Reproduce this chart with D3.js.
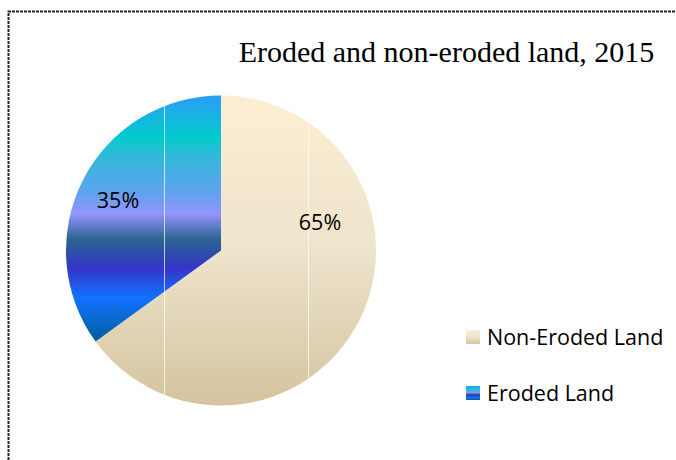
<!DOCTYPE html>
<html><head><meta charset="utf-8">
<script src="https://cdn.jsdelivr.net/npm/d3@7"></script>
<style>body{margin:0;background:#fff}svg{display:block}</style>
</head><body>
<svg id="c" width="676" height="460"></svg>
<script>
const categories = ["Non-Eroded Land", "Eroded Land"];
const values = [65, 35];
const labels = ["65%", "35%"];
const title = "Eroded and non-eroded land, 2015";
const gradStops = [
  [[0, "#fdeed2"], [0.5, "#ede4cc"], [1, "#d4c39e"]],
  [[0, "#2c9cf6"], [0.17, "#00cccc"], [0.24, "#2fb9d9"], [0.4, "#62a2ee"], [0.48, "#9494ff"], [0.585, "#2a6490"], [0.7, "#3434c8"], [0.82, "#1272ff"], [1, "#005e9c"]]
];

const svg = d3.select("#c");
const W = 676, H = 460;
const cx = 221, cy = 250.5, R = 155;

// frame border
svg.append("path").attr("d", `M8.5,${H} L8.5,11.5 L675,11.5`)
  .attr("fill", "none").attr("stroke", "#222").attr("stroke-width", 2)
  .attr("stroke-dasharray", "3,1");

const pie = d3.pie().sort(null).value(d => d)(values);
const arc = d3.arc().innerRadius(0).outerRadius(R);

const defs = svg.append("defs");
const gp = svg.append("g").attr("transform", `translate(${cx},${cy})`);

pie.forEach((p, i) => {
  const path = gp.append("path").attr("d", arc(p));
  const bb = path.node().getBBox();
  const lg = defs.append("linearGradient").attr("id", "g" + i)
    .attr("gradientUnits", "userSpaceOnUse")
    .attr("x1", 0).attr("x2", 0).attr("y1", bb.y).attr("y2", bb.y + bb.height);
  gradStops[i].forEach(s => lg.append("stop").attr("offset", s[0]).attr("stop-color", s[1]));
  path.attr("fill", `url(#g${i})`);
  const lg2 = defs.append("linearGradient").attr("id", "lg" + i)
    .attr("x1", 0).attr("x2", 0).attr("y1", 0).attr("y2", 1);
  gradStops[i].forEach(s => lg2.append("stop").attr("offset", s[0]).attr("stop-color", s[1]));
});

// faint vertical artifact lines
const clip = defs.append("clipPath").attr("id", "pc");
clip.append("circle").attr("cx", cx).attr("cy", cy).attr("r", R);
const artX = [164.5, 308.5];
svg.append("g").attr("clip-path", "url(#pc)").selectAll("line").data(artX).join("line")
  .attr("x1", d => d).attr("x2", d => d).attr("y1", cy - R).attr("y2", cy + R)
  .attr("stroke", "#fff").attr("stroke-opacity", 0.7).attr("stroke-width", 1);

// data labels
const labelPos = [[320, 230], [118, 208]];
svg.selectAll("text.lbl").data(pie).join("text").attr("class", "lbl")
  .attr("x", (d, i) => labelPos[i][0]).attr("y", (d, i) => labelPos[i][1])
  .attr("text-anchor", "middle")
  .attr("font-family", "'Open Sans', 'Noto Sans', sans-serif")
  .attr("font-size", 21.5).attr("fill", "#000")
  .text((d, i) => labels[i]);

// title
svg.append("text").attr("x", 446.5).attr("y", 62).attr("text-anchor", "middle")
  .attr("font-family", "'Liberation Serif', serif").attr("font-size", 30)
  .attr("fill", "#000").text(title);

// legend
const lg = svg.append("g");
categories.forEach((c, i) => {
  const y = 330 + i * 56;
  lg.append("rect").attr("x", 466).attr("y", y).attr("width", 14).attr("height", 14)
    .attr("fill", `url(#lg${i})`);
  lg.append("text").attr("x", 487).attr("y", y + 15)
    .attr("font-family", "'Open Sans', 'Noto Sans', sans-serif").attr("font-size", 21.5)
    .attr("fill", "#000").text(c);
});
</script>
</body></html>
